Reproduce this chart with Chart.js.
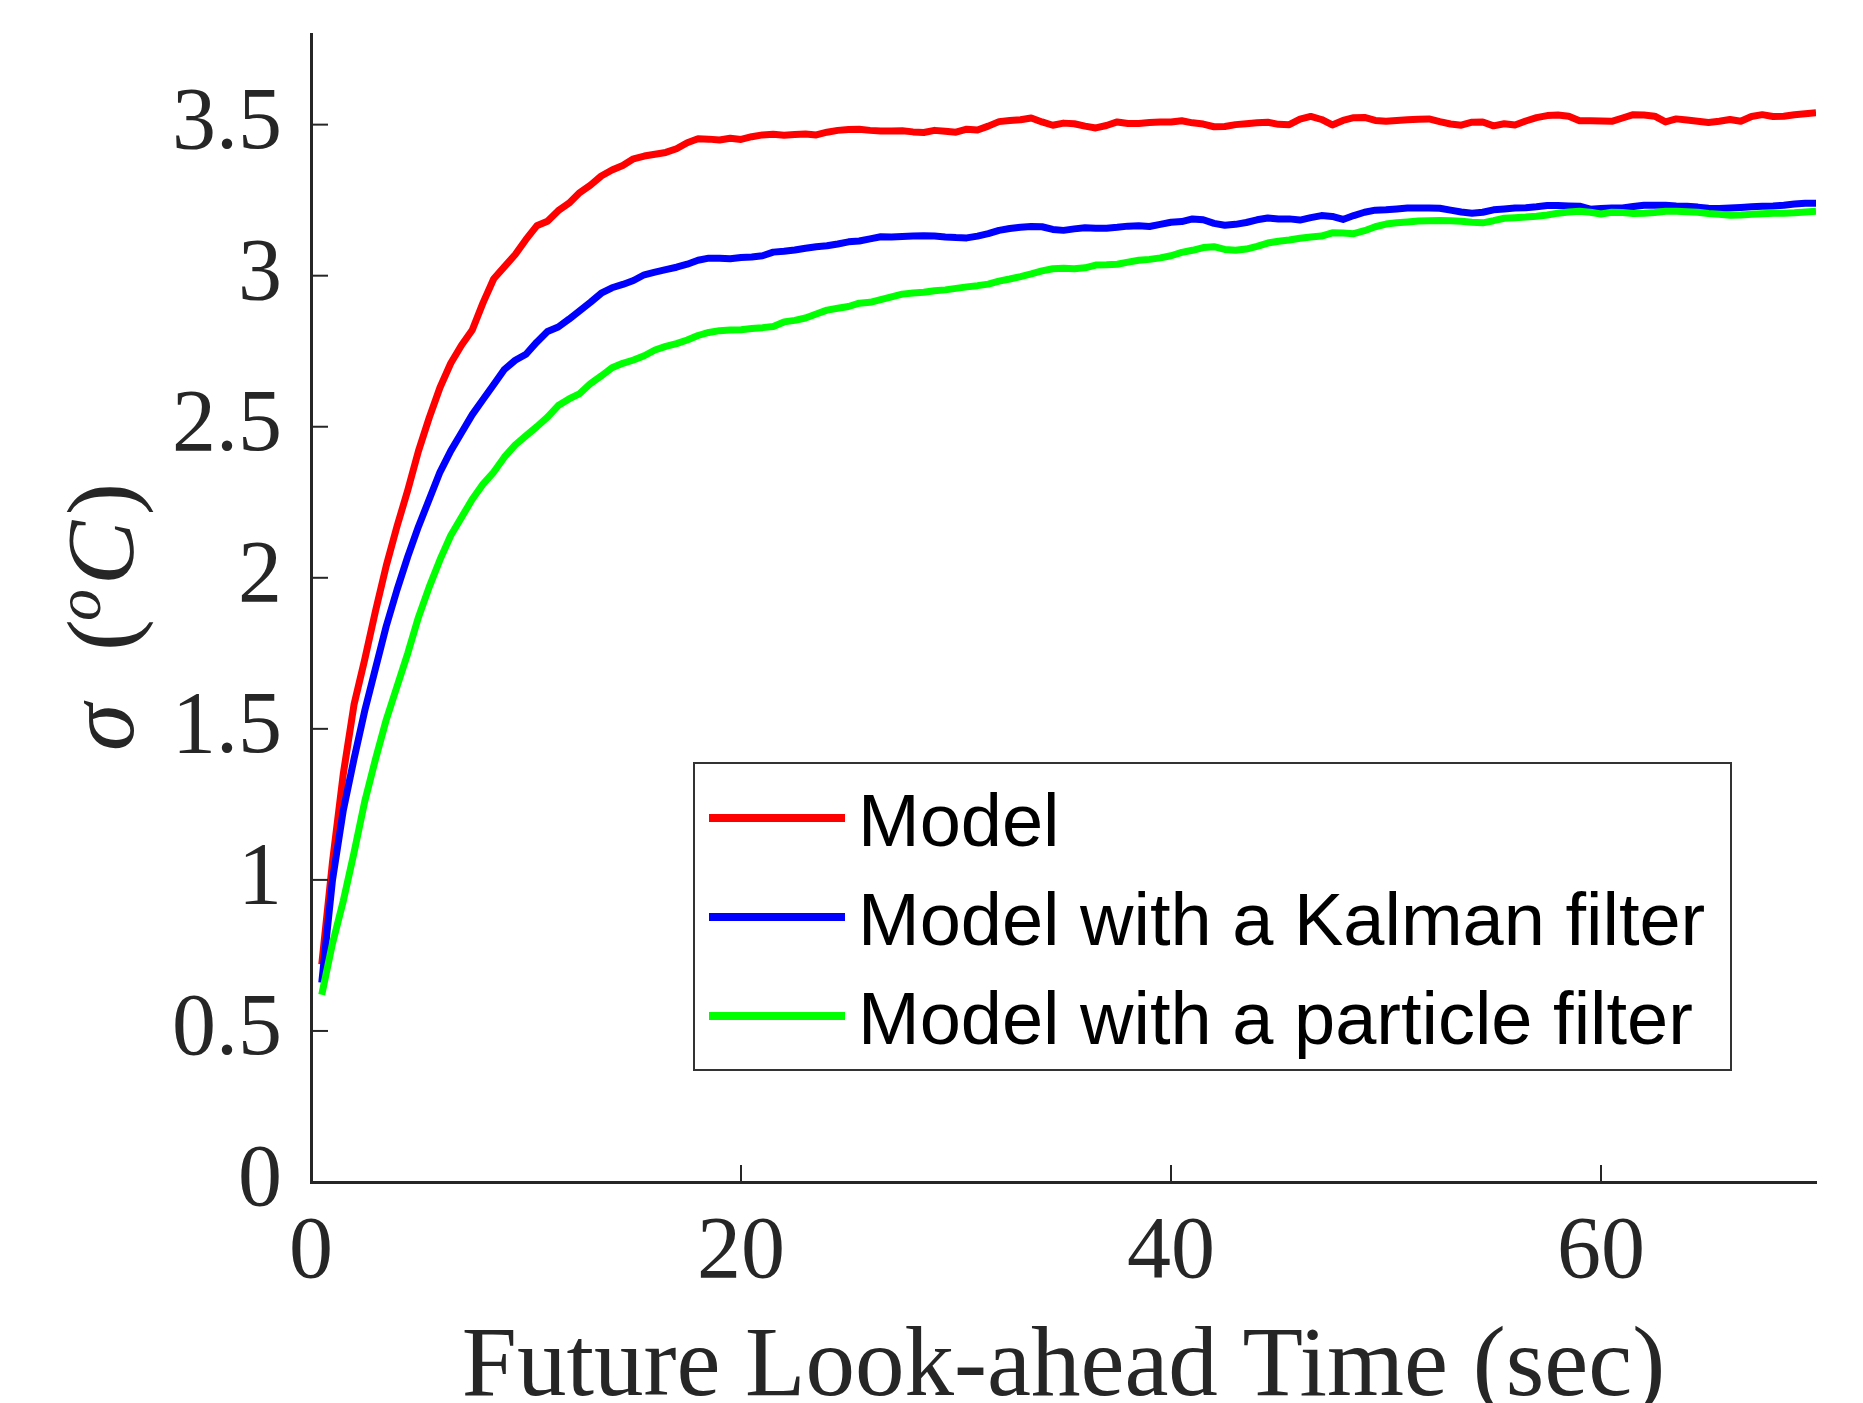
<!DOCTYPE html>
<html>
<head>
<meta charset="utf-8">
<title>Prediction error vs look-ahead time</title>
<script src="https://cdn.jsdelivr.net/npm/chart.js@4.4.1/dist/chart.umd.min.js"></script>
<style>
    html, body { margin: 0; padding: 0; background: #fff; }
    #wrap { width: 1863px; height: 1403px; }
</style>
</head>
<body>
<div id="wrap"><canvas id="sigmaChart" width="1863" height="1403"></canvas></div>
<script>
// look-ahead time (sec), one sample every 0.5 s
const lookAhead = [
    0.5, 1, 1.5, 2, 2.5, 3, 3.5, 4, 4.5, 5, 5.5, 6, 6.5, 7, 7.5, 8, 8.5, 9, 9.5, 10,
    10.5, 11, 11.5, 12, 12.5, 13, 13.5, 14, 14.5, 15, 15.5, 16, 16.5, 17, 17.5, 18, 18.5, 19, 19.5, 20,
    20.5, 21, 21.5, 22, 22.5, 23, 23.5, 24, 24.5, 25, 25.5, 26, 26.5, 27, 27.5, 28, 28.5, 29, 29.5, 30,
    30.5, 31, 31.5, 32, 32.5, 33, 33.5, 34, 34.5, 35, 35.5, 36, 36.5, 37, 37.5, 38, 38.5, 39, 39.5, 40,
    40.5, 41, 41.5, 42, 42.5, 43, 43.5, 44, 44.5, 45, 45.5, 46, 46.5, 47, 47.5, 48, 48.5, 49, 49.5, 50,
    50.5, 51, 51.5, 52, 52.5, 53, 53.5, 54, 54.5, 55, 55.5, 56, 56.5, 57, 57.5, 58, 58.5, 59, 59.5, 60,
    60.5, 61, 61.5, 62, 62.5, 63, 63.5, 64, 64.5, 65, 65.5, 66, 66.5, 67, 67.5, 68, 68.5, 69, 69.5, 70
];

const modelSigma = [
    0.72, 1.06, 1.35, 1.58, 1.73, 1.89, 2.04, 2.17, 2.29, 2.42, 2.53, 2.63, 2.71, 2.77, 2.82, 2.91, 2.99, 3.03, 3.07, 3.12,
    3.165, 3.18, 3.215, 3.24, 3.275, 3.30, 3.33, 3.35, 3.365, 3.387, 3.396, 3.402, 3.408, 3.42, 3.44, 3.453, 3.452, 3.449, 3.455, 3.451,
    3.46, 3.466, 3.468, 3.465, 3.467, 3.469, 3.466, 3.475, 3.481, 3.484, 3.485, 3.481, 3.479, 3.479, 3.48, 3.476, 3.474, 3.481, 3.478, 3.475,
    3.485, 3.482, 3.495, 3.51, 3.514, 3.516, 3.522, 3.509, 3.498, 3.505, 3.503, 3.495, 3.489, 3.497, 3.509, 3.504, 3.504, 3.507, 3.509, 3.509,
    3.513, 3.506, 3.502, 3.493, 3.494, 3.5, 3.503, 3.506, 3.508, 3.501, 3.5, 3.518, 3.527, 3.517, 3.499, 3.514, 3.523, 3.524, 3.514, 3.511,
    3.514, 3.516, 3.518, 3.519, 3.51, 3.502, 3.498, 3.508, 3.509, 3.496, 3.503, 3.499, 3.512, 3.523, 3.53, 3.532, 3.528, 3.513, 3.513, 3.512,
    3.511, 3.522, 3.533, 3.532, 3.528, 3.509, 3.519, 3.515, 3.511, 3.507, 3.511, 3.517, 3.511, 3.527, 3.533, 3.527, 3.528, 3.533, 3.536, 3.539
];

const kalmanSigma = [
    0.66, 1.00, 1.23, 1.40, 1.56, 1.70, 1.84, 1.96, 2.07, 2.17, 2.26, 2.35, 2.42, 2.48, 2.54, 2.59, 2.64, 2.69, 2.72, 2.74,
    2.78, 2.815, 2.83, 2.856, 2.884, 2.912, 2.942, 2.96, 2.971, 2.984, 3.003, 3.012, 3.02, 3.028, 3.038, 3.051, 3.058, 3.058, 3.056, 3.06,
    3.062, 3.066, 3.078, 3.081, 3.085, 3.091, 3.096, 3.099, 3.105, 3.112, 3.115, 3.122, 3.129, 3.128, 3.13, 3.131, 3.132, 3.131, 3.128, 3.126,
    3.125, 3.131, 3.139, 3.15, 3.156, 3.16, 3.163, 3.162, 3.153, 3.15, 3.155, 3.159, 3.157, 3.157, 3.16, 3.164, 3.165, 3.163, 3.17, 3.177,
    3.179, 3.188, 3.185, 3.173, 3.167, 3.17, 3.176, 3.185, 3.191, 3.188, 3.188, 3.184, 3.192, 3.199, 3.196, 3.186, 3.199, 3.21, 3.217, 3.218,
    3.221, 3.224, 3.224, 3.224, 3.223, 3.217, 3.211, 3.207, 3.21, 3.218, 3.221, 3.224, 3.225, 3.228, 3.232, 3.232, 3.231, 3.23, 3.22, 3.222,
    3.224, 3.224, 3.229, 3.233, 3.233, 3.233, 3.231, 3.23, 3.227, 3.223, 3.222, 3.224, 3.226, 3.228, 3.23, 3.231, 3.233, 3.237, 3.24, 3.24
];

const particleSigma = [
    0.62, 0.79, 0.93, 1.09, 1.26, 1.40, 1.53, 1.64, 1.75, 1.87, 1.97, 2.06, 2.14, 2.20, 2.26, 2.31, 2.35, 2.40, 2.44, 2.47,
    2.50, 2.532, 2.57, 2.592, 2.61, 2.643, 2.668, 2.695, 2.71, 2.721, 2.735, 2.754, 2.766, 2.775, 2.787, 2.802, 2.812, 2.818, 2.82, 2.821,
    2.825, 2.828, 2.832, 2.847, 2.852, 2.86, 2.873, 2.886, 2.892, 2.898, 2.909, 2.912, 2.921, 2.93, 2.939, 2.943, 2.945, 2.95, 2.953, 2.958,
    2.963, 2.967, 2.972, 2.982, 2.989, 2.997, 3.006, 3.016, 3.023, 3.025, 3.023, 3.026, 3.035, 3.036, 3.038, 3.045, 3.051, 3.054, 3.059, 3.066,
    3.077, 3.084, 3.093, 3.096, 3.087, 3.084, 3.088, 3.097, 3.108, 3.114, 3.118, 3.124, 3.128, 3.131, 3.142, 3.141, 3.139, 3.149, 3.162, 3.171,
    3.175, 3.178, 3.181, 3.182, 3.183, 3.182, 3.18, 3.177, 3.175, 3.182, 3.19, 3.192, 3.194, 3.197, 3.201, 3.207, 3.211, 3.213, 3.21, 3.204,
    3.21, 3.209, 3.206, 3.207, 3.209, 3.213, 3.213, 3.212, 3.21, 3.206, 3.203, 3.2, 3.201, 3.203, 3.205, 3.207, 3.207, 3.208, 3.211, 3.213
];

const xTicks = [0, 20, 40, 60];
const yTicks = [0, 0.5, 1, 1.5, 2, 2.5, 3, 3.5];
const seriesNames = ['Model', 'Model with a Kalman filter', 'Model with a particle filter'];
const seriesColors = ['#ff0000', '#0000ff', '#00ff00'];

const axisColor = '#262626';
const serif = '"Liberation Serif", "DejaVu Serif", serif';

function toPoints(values) {
    return lookAhead.map((t, i) => ({ x: t, y: values[i] }));
}

// inward tick marks, legend box and the two axis titles
const decorations = {
    id: 'decorations',
    afterDraw(chart) {
        const { ctx, chartArea, scales } = chart;
        ctx.save();

        ctx.strokeStyle = axisColor;
        ctx.lineWidth = 2;
        xTicks.forEach(v => {
            const px = scales.x.getPixelForValue(v);
            ctx.beginPath();
            ctx.moveTo(px, chartArea.bottom);
            ctx.lineTo(px, chartArea.bottom - 17);
            ctx.stroke();
        });
        yTicks.forEach(v => {
            const py = scales.y.getPixelForValue(v);
            ctx.beginPath();
            ctx.moveTo(chartArea.left, py);
            ctx.lineTo(chartArea.left + 17, py);
            ctx.stroke();
        });

        // legend
        const box = { x: 694, y: 763, w: 1037, h: 307 };
        ctx.fillStyle = '#ffffff';
        ctx.fillRect(box.x, box.y, box.w, box.h);
        ctx.strokeStyle = '#333333';
        ctx.lineWidth = 2;
        ctx.strokeRect(box.x, box.y, box.w, box.h);
        const rowY = [818, 917, 1016];
        ctx.font = '74px "Liberation Sans", Arial, sans-serif';
        ctx.textBaseline = 'alphabetic';
        ctx.textAlign = 'left';
        chart.data.datasets.forEach((ds, i) => {
            ctx.strokeStyle = ds.borderColor;
            ctx.lineWidth = 8;
            ctx.beginPath();
            ctx.moveTo(709, rowY[i]);
            ctx.lineTo(845, rowY[i]);
            ctx.stroke();
            ctx.fillStyle = '#000000';
            ctx.fillText(ds.label, 858, rowY[i] + 28);
        });

        // x title
        ctx.fillStyle = axisColor;
        ctx.font = '99px ' + serif;
        ctx.textAlign = 'center';
        ctx.fillText('Future Look-ahead Time (sec)', (chartArea.left + chartArea.right) / 2, 1395);

        // y title: sigma (^oC), rotated
        ctx.translate(133, 751);
        ctx.rotate(-Math.PI / 2);
        ctx.textAlign = 'left';
        const parts = [
            { text: 'σ', font: 'italic 96px ' + serif, dx: 0, dy: 0 },
            { text: '(', font: '96px ' + serif, dx: 100, dy: 0 },
            { text: 'o', font: 'italic 64px ' + serif, dx: 130, dy: -33 },
            { text: 'C', font: 'italic 96px ' + serif, dx: 166, dy: 0 },
            { text: ')', font: '96px ' + serif, dx: 236, dy: 0 }
        ];
        parts.forEach(p => {
            ctx.font = p.font;
            ctx.fillText(p.text, p.dx, p.dy);
        });

        ctx.restore();
    }
};

const lineStyle = {
    borderWidth: 7,
    pointRadius: 0,
    tension: 0,
    fill: false,
    borderJoinStyle: 'round',
    borderCapStyle: 'butt'
};

document.addEventListener('DOMContentLoaded', () => {
    const canvas = document.getElementById('sigmaChart');

    new Chart(canvas, {
        type: 'line',
        data: {
            datasets: [
                { ...lineStyle, label: seriesNames[0], data: toPoints(modelSigma), borderColor: seriesColors[0], order: 2 },
                { ...lineStyle, label: seriesNames[1], data: toPoints(kalmanSigma), borderColor: seriesColors[1], order: 1 },
                { ...lineStyle, label: seriesNames[2], data: toPoints(particleSigma), borderColor: seriesColors[2], order: 0 }
            ]
        },
        options: {
            responsive: false,
            animation: false,
            devicePixelRatio: 1,
            layout: { padding: { top: 34, right: 47, left: 0, bottom: 0 } },
            plugins: {
                legend: { display: false },
                tooltip: { enabled: false }
            },
            scales: {
                x: {
                    type: 'linear',
                    min: 0,
                    max: 70,
                    afterBuildTicks: scale => { scale.ticks = xTicks.map(v => ({ value: v })); },
                    afterFit: scale => {
                        scale.height = 221;
                        scale.paddingLeft = 0;
                        scale.paddingRight = 0;
                    },
                    grid: { display: false, drawTicks: false },
                    border: { display: true, color: axisColor, width: 3 },
                    ticks: {
                        color: axisColor,
                        font: { family: serif, size: 88, lineHeight: 1 },
                        padding: 28,
                        maxRotation: 0,
                        autoSkip: false,
                        callback: value => String(value)
                    }
                },
                y: {
                    type: 'linear',
                    min: 0,
                    max: 3.8,
                    afterBuildTicks: scale => { scale.ticks = yTicks.map(v => ({ value: v })); },
                    afterFit: scale => {
                        scale.width = 311;
                        scale.paddingTop = 0;
                        scale.paddingBottom = 0;
                    },
                    grid: { display: false, drawTicks: false },
                    border: { display: true, color: axisColor, width: 3 },
                    ticks: {
                        color: axisColor,
                        font: { family: serif, size: 88, lineHeight: 0.7 },
                        padding: 29,
                        autoSkip: false,
                        callback: value => String(value)
                    }
                }
            }
        },
        plugins: [decorations]
    });
});
</script>
</body>
</html>
